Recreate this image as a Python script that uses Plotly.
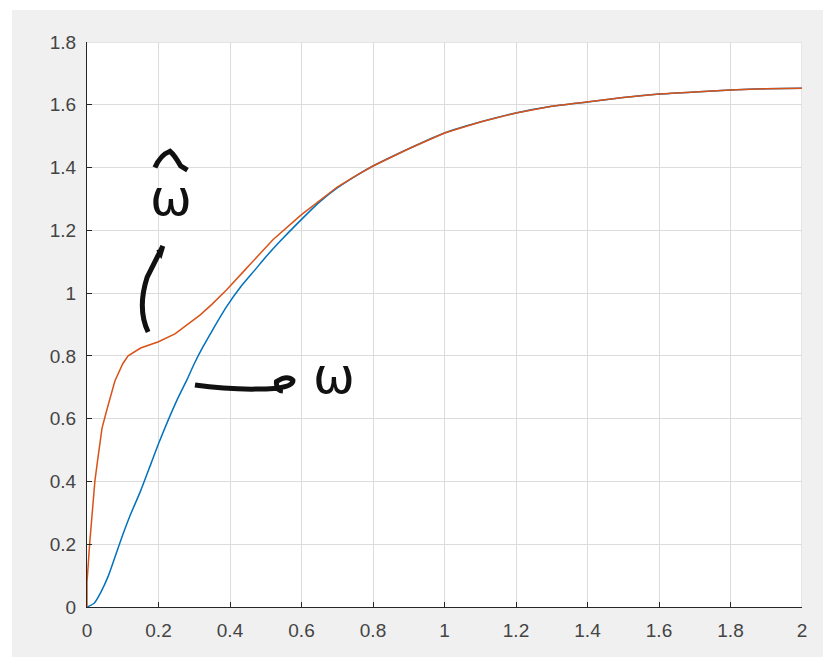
import plotly.graph_objects as go

# Speed response: measured w and estimated w-hat over time
t_w = [0, 0.02, 0.04, 0.06, 0.08, 0.1, 0.12, 0.15, 0.18, 0.2, 0.25, 0.28, 0.3,
       0.325, 0.35, 0.39, 0.43, 0.47, 0.5, 0.54, 0.6, 0.65, 0.7, 0.75, 0.8,
       0.9, 1.0, 1.1, 1.2, 1.3, 1.4, 1.5, 1.6, 1.7, 1.8, 1.9, 2.0]
w = [0, 0.012, 0.05, 0.1, 0.165, 0.23, 0.29, 0.37, 0.46, 0.52, 0.655, 0.725, 0.775,
     0.83, 0.88, 0.956, 1.02, 1.074, 1.115, 1.165, 1.235, 1.29, 1.335, 1.372, 1.405,
     1.46, 1.51, 1.545, 1.574, 1.595, 1.609, 1.623, 1.634, 1.641, 1.647, 1.651, 1.653]

t_what = [0, 0, 0.008, 0.015, 0.022, 0.03, 0.042, 0.056, 0.078, 0.1, 0.115, 0.15,
          0.2, 0.246, 0.288, 0.316, 0.35, 0.39, 0.442, 0.52, 0.6, 0.65, 0.7, 0.75,
          0.8, 0.9, 1.0, 1.1, 1.2, 1.3, 1.4, 1.5, 1.6, 1.7, 1.8, 1.9, 2.0]
w_hat = [0, 0.08, 0.21, 0.31, 0.40, 0.47, 0.57, 0.63, 0.72, 0.775, 0.80, 0.825,
         0.845, 0.87, 0.905, 0.93, 0.965, 1.01, 1.074, 1.17, 1.25, 1.295, 1.338, 1.373,
         1.405, 1.46, 1.51, 1.545, 1.574, 1.595, 1.609, 1.623, 1.634, 1.641, 1.647, 1.651, 1.653]

x_ticks = [0, 0.2, 0.4, 0.6, 0.8, 1, 1.2, 1.4, 1.6, 1.8, 2]
x_tick_labels = ["0", "0.2", "0.4", "0.6", "0.8", "1", "1.2", "1.4", "1.6", "1.8", "2"]
y_ticks = [0, 0.2, 0.4, 0.6, 0.8, 1, 1.2, 1.4, 1.6, 1.8]
y_tick_labels = ["0", "0.2", "0.4", "0.6", "0.8", "1", "1.2", "1.4", "1.6", "1.8"]

BLUE = "#0072BD"
ORANGE = "#D95319"
INK = "#111111"
GRID = "#dcdcdc"

fig = go.Figure()
fig.add_trace(go.Scatter(x=t_w, y=w, mode="lines",
                         line=dict(color=BLUE, width=1.5, shape="spline", smoothing=0.6),
                         showlegend=False, hoverinfo="skip"))
fig.add_trace(go.Scatter(x=t_what, y=w_hat, mode="lines", line=dict(color=ORANGE, width=1.5),
                         showlegend=False, hoverinfo="skip"))

axis_common = dict(
    showgrid=True, gridcolor=GRID, gridwidth=1,
    showline=True, linecolor="#262626", linewidth=1.3,
    ticks="inside", ticklen=5, tickcolor="#262626", tickwidth=1.3,
    tickfont=dict(family="Liberation Sans, Arial, sans-serif", size=19, color="#444444"),
    zeroline=False, mirror=False,
)

fig.update_xaxes(range=[0, 2], tickvals=x_ticks, ticktext=x_tick_labels,
                 ticklabelstandoff=6, **axis_common)
fig.update_yaxes(range=[0, 1.8], tickvals=y_ticks, ticktext=y_tick_labels,
                 ticklabelstandoff=6, **axis_common)

# Hand-drawn annotations: ω-hat label with pointer stroke, ω label with arrow stroke
hand = dict(type="path", xref="x", yref="y",
            line=dict(color=INK, width=5), layer="above")
shapes = [
    # light frame on top and right of the axes
    dict(type="line", xref="x", yref="y", x0=0, x1=2, y0=1.8, y1=1.8,
         line=dict(color=GRID, width=1.5), layer="below"),
    dict(type="line", xref="x", yref="y", x0=2, x1=2, y0=0, y1=1.8,
         line=dict(color=GRID, width=1.5), layer="below"),
    # white border strips around the grey figure background
    dict(type="rect", xref="paper", yref="paper", x0=-0.2, x1=-0.1049, y0=-0.2, y1=1.2,
         fillcolor="white", line=dict(width=0), layer="below"),
    dict(type="rect", xref="paper", yref="paper", x0=-0.2, x1=1.2, y0=1.0566, y1=1.2,
         fillcolor="white", line=dict(width=0), layer="below"),
    # hat over the ω
    dict(hand, path="M 0.190 1.400 Q 0.205 1.440 0.232 1.452 Q 0.245 1.440 0.262 1.405 L 0.281 1.392"),
    # pointer stroke below ω-hat
    dict(hand, path="M 0.171 0.876 Q 0.140 0.950 0.168 1.050 Q 0.190 1.100 0.212 1.150 "
                    "L 0.206 1.128 L 0.200 1.140"),
    # arrow stroke toward the ω label
    dict(hand, path="M 0.302 0.707 Q 0.420 0.688 0.534 0.697 Q 0.578 0.705 0.576 0.722 "
                    "Q 0.560 0.740 0.530 0.718 Q 0.528 0.690 0.548 0.688"),
]

annotations = [
    dict(x=0.235, y=1.303, xref="x", yref="y", text="ω", showarrow=False,
         font=dict(family="DejaVu Sans, sans-serif", size=50, color=INK)),
    dict(x=0.69, y=0.735, xref="x", yref="y", text="ω", showarrow=False,
         font=dict(family="DejaVu Sans, sans-serif", size=50, color=INK)),
]

fig.update_layout(
    width=823, height=657,
    margin=dict(l=87, r=21, t=42, b=50),
    paper_bgcolor="#f0f0f0", plot_bgcolor="white",
    shapes=shapes, annotations=annotations,
    showlegend=False,
)

fig.write_html("out.html")
